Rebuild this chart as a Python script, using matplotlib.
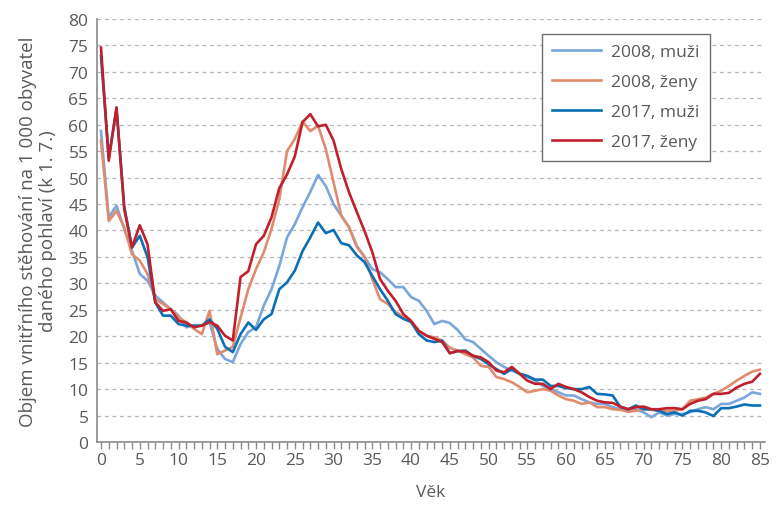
import matplotlib
matplotlib.use("Agg")
import matplotlib.pyplot as plt
from matplotlib.ticker import MultipleLocator

ages = list(range(0, 86))

muzi_2008 = [
    58.8, 42.5, 44.7, 40.3, 36.2, 31.8, 30.5, 27.7, 26.4, 25.1,
    23.9, 21.7, 22.0, 22.0, 22.6, 17.6, 15.7, 15.1, 18.5, 20.8,
    21.7, 25.8, 28.9, 33.3, 38.7, 41.2, 44.4, 47.3, 50.5, 48.4,
    45.0, 42.8, 40.6, 37.1, 35.0, 32.7, 32.1, 30.8, 29.3, 29.3,
    27.4, 26.7, 24.8, 22.3, 22.9, 22.5, 21.2, 19.4, 18.9, 17.6,
    16.3, 15.1, 14.2, 13.5, 12.9, 12.3, 11.6, 10.6, 10.0, 9.4,
    8.8, 8.8, 8.1, 7.5, 7.2, 7.2, 6.6, 6.2, 5.9, 6.2,
    5.6, 4.7, 5.6, 5.0, 5.3, 5.3, 5.6, 6.2, 6.6, 6.2,
    7.2, 7.2, 7.8, 8.4, 9.4, 9.1,
]

zeny_2008 = [
    57.0, 41.8, 43.7, 40.6, 35.5, 34.3, 31.8, 27.0, 26.1, 25.1,
    23.6, 22.6, 21.4, 20.4, 24.8, 16.6, 17.3, 18.0, 23.5, 28.9,
    32.7, 35.9, 40.3, 45.9, 55.0, 57.3, 60.6, 58.8, 59.8, 55.4,
    49.1, 42.8, 40.6, 36.9, 35.0, 30.8, 27.0, 26.1, 24.6, 23.6,
    22.7, 21.0, 20.1, 19.8, 19.2, 17.8, 17.3, 16.6, 16.0, 14.4,
    14.2, 12.3, 11.9, 11.3, 10.4, 9.4, 9.7, 10.0, 9.7, 8.8,
    8.1, 7.8, 7.2, 7.5, 6.6, 6.6, 6.2, 6.1, 5.7, 5.9,
    6.2, 6.1, 5.9, 5.9, 5.9, 6.2, 7.8, 8.1, 8.4, 9.1,
    9.7, 10.6, 11.6, 12.5, 13.3, 13.7,
]

muzi_2017 = [
    73.0, 53.8, 63.0, 44.5, 36.8, 39.0, 35.0, 26.4, 23.9, 23.9,
    22.3, 22.0, 22.0, 22.0, 23.2, 21.4, 18.0, 17.0, 20.4, 22.6,
    21.2, 23.2, 24.2, 28.9, 30.2, 32.4, 36.1, 38.7, 41.5, 39.5,
    40.1, 37.6, 37.2, 35.3, 34.0, 31.4, 28.9, 26.7, 24.2, 23.3,
    22.7, 20.4, 19.2, 18.9, 19.2, 16.8, 17.2, 17.3, 16.3, 15.7,
    14.7, 13.8, 12.9, 13.8, 12.9, 12.5, 11.8, 11.8, 10.6, 10.6,
    10.2, 10.0, 10.0, 10.4, 9.1, 9.0, 8.8, 6.6, 6.2, 6.9,
    6.2, 6.2, 5.9, 5.3, 5.6, 5.0, 5.9, 5.9, 5.6, 4.9,
    6.4, 6.4, 6.7, 7.1, 6.9, 6.9,
]

zeny_2017 = [
    74.6, 53.2, 63.3, 44.0, 36.8, 41.0, 37.4, 26.4, 24.8, 25.1,
    22.9, 22.6, 21.7, 22.0, 22.7, 22.0, 20.1, 19.2, 31.2, 32.3,
    37.4, 39.0, 42.5, 48.0, 50.6, 54.0, 60.5, 62.0, 59.7, 60.0,
    57.0, 51.6, 47.2, 43.5, 39.9, 35.9, 30.8, 28.6, 26.7, 24.2,
    22.9, 21.0, 20.1, 19.5, 18.9, 16.8, 17.2, 17.1, 16.3, 16.0,
    15.1, 13.5, 13.2, 14.2, 12.9, 11.6, 11.0, 11.0, 10.0, 11.0,
    10.4, 10.0, 9.4, 8.5, 7.8, 7.5, 7.4, 6.7, 6.2, 6.6,
    6.7, 6.2, 6.2, 6.4, 6.4, 6.2, 7.2, 7.8, 8.1, 9.1,
    9.1, 9.3, 10.3, 11.0, 11.4, 12.9,
]

series = [
    ("2008, muži", muzi_2008, "#7aa6dc"),
    ("2008, ženy", zeny_2008, "#e08b6e"),
    ("2017, muži", muzi_2017, "#0b6fb6"),
    ("2017, ženy", zeny_2017, "#c01f2b"),
]

text_color = "#595959"
plt.rcParams["font.family"] = ["Open Sans", "DejaVu Sans"]

fig = plt.figure(figsize=(7.82, 5.06), dpi=100)
ax = fig.add_axes([0.1237, 0.1245, 0.854, 0.836])

for label, values, color in series:
    ax.plot(ages, values, color=color, linewidth=1.9, label=label)

ax.set_xlim(-0.55, 85.6)
ax.set_ylim(0, 80)
ax.xaxis.set_major_locator(MultipleLocator(5))
ax.xaxis.set_minor_locator(MultipleLocator(1))
ax.yaxis.set_major_locator(MultipleLocator(5))

ax.grid(axis="y", color="#b5b5b5", linestyle=(0, (3, 3)), linewidth=0.9)
ax.set_axisbelow(True)

for side in ("top", "right"):
    ax.spines[side].set_visible(False)
for side in ("left", "bottom"):
    ax.spines[side].set_color("#8a8a8a")
    ax.spines[side].set_linewidth(1.2)

ax.tick_params(axis="x", which="both", direction="out", length=5, width=1,
               color="#8a8a8a", labelsize=12.5, labelcolor=text_color, pad=2)
ax.tick_params(axis="y", length=0, labelsize=12.5, labelcolor=text_color, pad=6)

ax.set_xlabel("Věk", fontsize=12.5, color=text_color, labelpad=12)
ax.set_ylabel("Objem vnitřního stěhování na 1 000 obyvatel\ndaného pohlaví (k 1. 7.)",
              fontsize=13.5, color=text_color, labelpad=8, linespacing=1.15)

leg = ax.legend(loc="upper left", bbox_to_anchor=(0.666, 0.965), borderaxespad=0,
                fontsize=12.5, handlelength=2.8, labelspacing=0.8, borderpad=0.6,
                handletextpad=0.6, fancybox=False, framealpha=1)
leg.get_frame().set_edgecolor("#6e6e6e")
leg.get_frame().set_linewidth(1.0)
for text in leg.get_texts():
    text.set_color(text_color)

fig.savefig("out.png", dpi=100)
